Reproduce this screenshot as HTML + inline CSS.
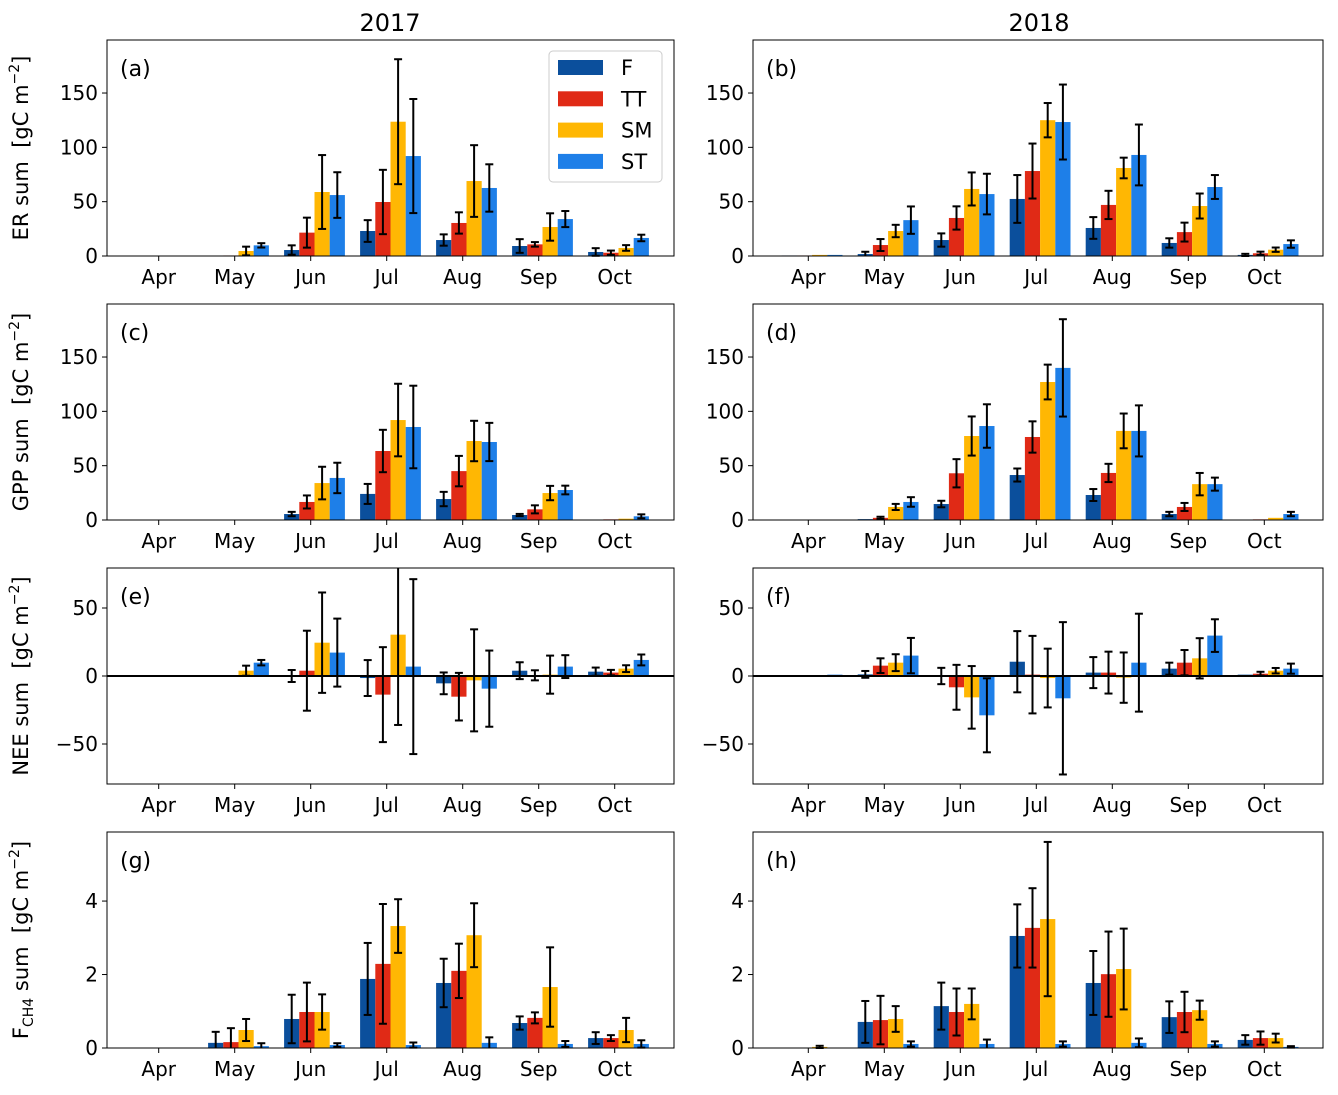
<!DOCTYPE html>
<html><head><meta charset="utf-8">
<style>
html,body{margin:0;padding:0;background:#fff;}
svg text{font-family:"DejaVu Sans","Liberation Sans",sans-serif;fill:#000;}
</style></head>
<body>
<svg id="chart" width="1338" height="1090" xmlns="http://www.w3.org/2000/svg"></svg>
<script>
// ---- data ----
const months = ["Apr","May","Jun","Jul","Aug","Sep","Oct"];
const seriesNames = ["F","TT","SM","ST"];
const colors = ["#0b4f9c","#e02a16","#ffb703","#1e7fe8"];

// (a) ER 2017
const a_F = [0.3,0,5.5,23,14.7,9.2,3.7];
const a_TT = [0.3,0.5,21.5,49.7,30.4,10.7,3];
const a_SM = [0.3,4.6,58.9,123.6,69,26.7,7.4];
const a_ST = [0.3,9.8,56.1,92,62.6,34,16.6];
const a_Fe = [0,0,4.3,10,5.2,6.3,3.5];
const a_TTe = [0,0,13.8,29.6,9.8,2.1,2];
const a_SMe = [0,4,34,57.5,33,12.6,2.6];
const a_STe = [0,2,21,52.5,21.8,7.4,3];
// (b) ER 2018
const b_F = [0.5,1.8,14.7,52.5,25.8,12,1];
const b_TT = [0.5,10.1,35,78.2,47,22,2.5];
const b_SM = [1,23,61.7,125,81,46,5.8];
const b_ST = [1,33,57,123.3,93,63.5,11];
const b_Fe = [0,2.1,6.1,22,10,4.3,1];
const b_TTe = [0,5.5,10.7,25.3,13,8.7,1.5];
const b_SMe = [0,5.7,15.2,15.8,9.5,11.5,2];
const b_STe = [0,12.6,18.7,34.5,28,11,3.4];
// (c) GPP 2017
const c_F = [0.3,0.3,5.5,24,19.3,4.6,0.3];
const c_TT = [0.3,0.3,16.6,63.5,45,9.8,0.6];
const c_SM = [0.3,0.3,34,92,72.7,24.8,1.2];
const c_ST = [0.3,0.3,38.7,85.6,71.8,27.6,3.4];
const c_Fe = [0,0,2,9.2,6.6,1,0];
const c_TTe = [0,0,6,19.5,14,3.7,0];
const c_SMe = [0,0,15,33.4,18.6,6.6,0];
const c_STe = [0,0,14,38,17.6,4,1.8];
// (d) GPP 2018
const d_F = [0.3,0.8,14.7,41.4,23,5.5,0.2];
const d_TT = [0.3,2,43,76.4,43.3,12,0.6];
const d_SM = [0.3,12,77.3,127,82,33,2];
const d_ST = [0.3,16.6,86.5,140,82,33,5.5];
const d_Fe = [0,0,3,6,5.5,2,0];
const d_TTe = [0,1,13,14.4,8.4,3.7,0];
const d_SMe = [0,2.8,18,16,16,10.3,0];
const d_STe = [0,4.4,20,44.8,23.5,6,2];
// (e) NEE 2017
const e_F = [0,0,0,-1.5,-5.4,3.9,3.2];
const e_TT = [0,0,3.9,-13.7,-15.2,0.5,2.5];
const e_SM = [0,3.9,24.5,30.4,-3.2,1,5.4];
const e_ST = [0,9.8,17.2,6.9,-9.3,6.9,11.8];
const e_Fe = [0,0,4.4,13.2,8,6.2,3];
const e_TTe = [0,0,29.4,34.9,17.5,3.7,2];
const e_SMe = [0,3.7,36.9,66.4,37.5,14,2.5];
const e_STe = [0,2,25,64.3,28,8.4,4];
// (f) NEE 2018
const f_F = [0,1.2,0,10.5,2.5,5.4,1];
const f_TT = [0,7.6,-8.3,1,2.5,9.8,1.7];
const f_SM = [0,9.8,-15.7,-1.5,-1.2,13,3.9];
const f_ST = [1,15,-28.9,-16.4,9.8,29.7,5.4];
const f_Fe = [0,2.5,6,22.5,11.4,4.4,0];
const f_TTe = [0,5.4,16.5,28.5,15.4,9.3,1.4];
const f_SMe = [0,6.2,23,21.6,18.5,14.8,2];
const f_STe = [0,13,27.2,56,36,12,3.7];
// (g) CH4 2017
const g_F = [0.01,0.14,0.79,1.88,1.77,0.68,0.27];
const g_TT = [0.01,0.16,0.98,2.29,2.1,0.82,0.27];
const g_SM = [0.01,0.49,0.98,3.32,3.07,1.66,0.49];
const g_ST = [0.01,0.05,0.08,0.08,0.14,0.11,0.11];
const g_Fe = [0,0.3,0.66,0.98,0.66,0.18,0.16];
const g_TTe = [0,0.38,0.8,1.63,0.74,0.15,0.08];
const g_SMe = [0,0.3,0.48,0.73,0.87,1.08,0.33];
const g_STe = [0,0.08,0.05,0.07,0.15,0.08,0.1];
// (h) CH4 2018
const h_F = [0.01,0.71,1.14,3.05,1.77,0.84,0.22];
const h_TT = [0.01,0.76,0.98,3.27,2.01,0.98,0.27];
const h_SM = [0.03,0.79,1.2,3.51,2.15,1.03,0.27];
const h_ST = [0.01,0.11,0.11,0.11,0.14,0.11,0.03];
const h_Fe = [0,0.57,0.64,0.86,0.87,0.43,0.13];
const h_TTe = [0,0.66,0.64,1.08,1.16,0.55,0.18];
const h_SMe = [0.03,0.35,0.42,2.1,1.1,0.26,0.12];
const h_STe = [0,0.07,0.12,0.07,0.12,0.07,0.02];

const erTicks = [0,50,100,150];
const neeTicks = [-50,0,50];
const ch4Ticks = [0,2,4];

// ---- layout ----
const NS = "http://www.w3.org/2000/svg";
const svg = document.getElementById("chart");
function mk(tag, attrs, parent){
  const el = document.createElementNS(NS, tag);
  for (const k in attrs) el.setAttribute(k, attrs[k]);
  (parent||svg).appendChild(el);
  return el;
}
const cols = [{x0:107,w:567,first:51.7},{x0:753,w:570,first:55.3}];
const rows = [
  {top:40,h:216,min:0,max:198.8,ticks:erTicks,lab:"ER"},
  {top:304,h:216,min:0,max:198.8,ticks:erTicks,lab:"GPP"},
  {top:568,h:216,min:-79.4,max:79.4,ticks:neeTicks,lab:"NEE"},
  {top:832,h:216,min:0,max:5.88,ticks:ch4Ticks,lab:"CH4"}
];
const panels = [
  {id:"a",r:0,c:0,v:[a_F,a_TT,a_SM,a_ST],e:[a_Fe,a_TTe,a_SMe,a_STe]},
  {id:"b",r:0,c:1,v:[b_F,b_TT,b_SM,b_ST],e:[b_Fe,b_TTe,b_SMe,b_STe]},
  {id:"c",r:1,c:0,v:[c_F,c_TT,c_SM,c_ST],e:[c_Fe,c_TTe,c_SMe,c_STe]},
  {id:"d",r:1,c:1,v:[d_F,d_TT,d_SM,d_ST],e:[d_Fe,d_TTe,d_SMe,d_STe]},
  {id:"e",r:2,c:0,v:[e_F,e_TT,e_SM,e_ST],e:[e_Fe,e_TTe,e_SMe,e_STe]},
  {id:"f",r:2,c:1,v:[f_F,f_TT,f_SM,f_ST],e:[f_Fe,f_TTe,f_SMe,f_STe]},
  {id:"g",r:3,c:0,v:[g_F,g_TT,g_SM,g_ST],e:[g_Fe,g_TTe,g_SMe,g_STe]},
  {id:"h",r:3,c:1,v:[h_F,h_TT,h_SM,h_ST],e:[h_Fe,h_TTe,h_SMe,h_STe]}
];
const UNIT = 76;

// titles
let t = mk("text",{x:390,y:31,"text-anchor":"middle","font-size":"24"});
t.textContent = "2017";


t = mk("text",{x:1039,y:31,"text-anchor":"middle","font-size":"24"});
t.textContent = "2018";



panels.forEach(p => {
  const R = rows[p.r], C = cols[p.c];
  const g = mk("g",{});
  
  
  const xs = v => C.x0 + C.first + v*UNIT;
  const ys = v => R.top + R.h - (v - R.min)/(R.max - R.min)*R.h;
  const clampY = y => Math.max(R.top, Math.min(R.top+R.h, y));

  p.v.forEach((arr, si) => {
    arr.forEach((val, mi) => {
      const x = xs(mi - 0.35 + si*0.2);
      const y0 = ys(0), y1 = ys(val);
      const b = mk("rect",{x:x.toFixed(2),y:Math.min(y0,y1).toFixed(2),width:(0.2*UNIT).toFixed(2),height:Math.abs(y1-y0).toFixed(2),fill:colors[si]}, g);
      
      
    });
  });
  p.v.forEach((arr, si) => {
    arr.forEach((val, mi) => {
      const err = p.e[si][mi];
      if (err <= 0) return;
      const cx = xs(mi - 0.25 + si*0.2);
      const yt = ys(val + err), yb = ys(val - err);
      const eg = mk("g",{stroke:"#000","stroke-width":"2"}, g);
      
      
      mk("line",{x1:cx,x2:cx,y1:clampY(yt),y2:clampY(yb)}, eg);
      if (yt >= R.top) mk("line",{x1:cx-4,x2:cx+4,y1:yt,y2:yt}, eg);
      if (yb <= R.top+R.h) mk("line",{x1:cx-4,x2:cx+4,y1:yb,y2:yb}, eg);
    });
  });
  if (R.min < 0) {
    const z = mk("line",{x1:C.x0,x2:C.x0+C.w,y1:ys(0),y2:ys(0),stroke:"#000","stroke-width":"2"}, g);
    
    
  }
  const fr = mk("rect",{x:C.x0,y:R.top,width:C.w,height:R.h,fill:"none",stroke:"#000","stroke-width":"1"}, g);
  
  
  months.forEach((m, mi) => {
    const x = xs(mi);
    mk("line",{x1:x,x2:x,y1:R.top+R.h,y2:R.top+R.h+5,stroke:"#000","stroke-width":"1"}, g);
    const tl = mk("text",{x:x,y:R.top+R.h+28,"text-anchor":"middle","font-size":"20"}, g);
    tl.textContent = m;
    
    
  });
  R.ticks.forEach(v => {
    const y = ys(v);
    mk("line",{x1:C.x0-5,x2:C.x0,y1:y,y2:y,stroke:"#000","stroke-width":"1"}, g);
    const tl = mk("text",{x:C.x0-9,y:y+7,"text-anchor":"end","font-size":"20"}, g);
    tl.textContent = v < 0 ? "\u2212" + Math.abs(v) : String(v);
    
    
  });
  const pl = mk("text",{x:C.x0+13,y:R.top+36,"font-size":"22"}, g);
  pl.textContent = "(" + p.id + ")";
  
  

  if (p.c === 0) {
    const cy = R.top + R.h/2;
    const yt = mk("text",{x:0,y:0,"text-anchor":"middle","font-size":"21",transform:"translate(28," + cy + ") rotate(-90)"}, g);
    
    
    if (R.lab === "CH4") {
      yt.innerHTML = 'F<tspan font-size="14" dy="5">CH4</tspan><tspan dy="-5"> sum  [gC m</tspan><tspan font-size="14" dy="-9">\u22122</tspan><tspan dy="9">]</tspan>';
    } else {
      yt.innerHTML = R.lab + ' sum  [gC m<tspan font-size="14" dy="-9">\u22122</tspan><tspan dy="9">]</tspan>';
    }
    yt.style.whiteSpace = 'pre';
  }
});

const lg = mk("g",{});


mk("rect",{x:549,y:51,width:113,height:131,rx:4,fill:"#fff",stroke:"#ccc","stroke-width":"1"}, lg);
seriesNames.forEach((n, i) => {
  const y = 67 + i*31.3;
  const e = mk("g",{}, lg);
  
  
  mk("rect",{x:558,y:y-7,width:45,height:15,fill:colors[i]}, e);
  const tx = mk("text",{x:621,y:y+8,"font-size":"21"}, e);
  tx.textContent = n;
});
</script>
</body></html>
